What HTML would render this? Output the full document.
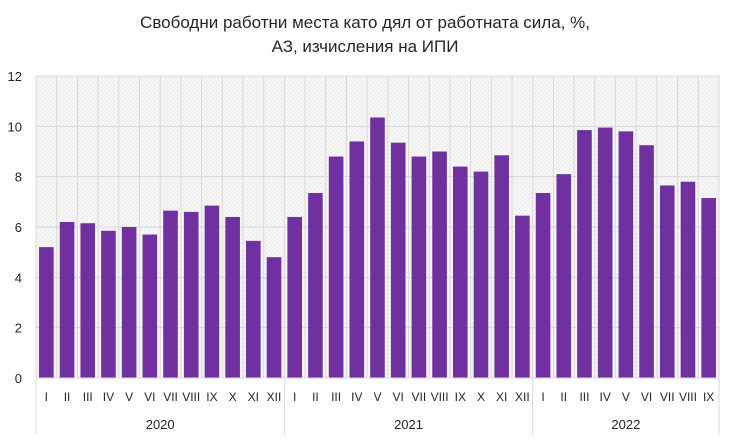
<!DOCTYPE html>
<html><head><meta charset="utf-8"><style>
body{margin:0;background:#fff;font-family:"Liberation Sans",sans-serif}
svg text{font-family:"Liberation Sans",sans-serif;fill:#262626}
</style></head><body>
<svg width="730" height="441">
<defs><pattern id="hatch" width="4" height="4" patternUnits="userSpaceOnUse"><rect width="4" height="4" fill="#f7f7f7"/><path d="M0,4 L4,0" stroke="#ececec" stroke-width="1"/></pattern></defs>
<text x="365" y="28" text-anchor="middle" font-size="17">Свободни работни места като дял от работната сила, %,</text>
<text x="365" y="52" text-anchor="middle" font-size="17">АЗ, изчисления на ИПИ</text>
<g id="g"></g>
</svg>
<script>
const months=["I","II","III","IV","V","VI","VII","VIII","IX","X","XI","XII","I","II","III","IV","V","VI","VII","VIII","IX","X","XI","XII","I","II","III","IV","V","VI","VII","VIII","IX"];
const values=[5.2,6.2,6.15,5.85,6.0,5.7,6.65,6.6,6.85,6.4,5.45,4.8,6.4,7.35,8.8,9.4,10.35,9.35,8.8,9.0,8.4,8.2,8.85,6.45,7.35,8.1,9.85,9.95,9.8,9.25,7.65,7.8,7.15];
const years=["2020","2021","2022"];
const yearCounts=[12,12,9];
const yTicks=[0,2,4,6,8,10,12];
const NS="http://www.w3.org/2000/svg";
const g=document.getElementById('g');
const L=36,R=719,T=76,B=378,yMax=12;
const step=(R-L)/values.length;
const y=v=>B-(v/yMax)*(B-T);
const xc=i=>L+step*(i+0.5);
function mk(t,a){const e=document.createElementNS(NS,t);for(const k in a)e.setAttribute(k,a[k]);g.appendChild(e);return e;}
let e=mk('rect',{x:L,y:T,width:R-L,height:B-T,fill:'url(#hatch)'});

for(let i=0;i<=values.length;i++){e=mk('line',{x1:L+step*i,x2:L+step*i,y1:T,y2:B,stroke:'#d9d9d9'});
}
yTicks.forEach(t=>{e=mk('line',{x1:L,x2:R,y1:y(t),y2:y(t),stroke:'#d9d9d9'});

e=mk('text',{x:22,y:y(t)+5,'text-anchor':'end','font-size':13});e.textContent=t;
});
values.forEach((v,i)=>{e=mk('rect',{x:xc(i)-7.3,y:y(v),width:14.6,height:B-y(v),fill:'#7030a0'});

e=mk('text',{x:xc(i),y:401,'text-anchor':'middle','font-size':12});e.textContent=months[i];
});
e=mk('line',{x1:L,x2:R,y1:B,y2:B,stroke:'#d9d9d9'});

let start=0;
e=mk('line',{x1:L,x2:L,y1:B,y2:435,stroke:'#d9d9d9'});

years.forEach((yr,j)=>{const end=start+yearCounts[j];
const x1=L+step*start,x2=L+step*end;
e=mk('line',{x1:x2,x2:x2,y1:B,y2:435,stroke:'#d9d9d9'});

e=mk('text',{x:(x1+x2)/2,y:429,'text-anchor':'middle','font-size':13});e.textContent=yr;

start=end;});
</script>
</body></html>
